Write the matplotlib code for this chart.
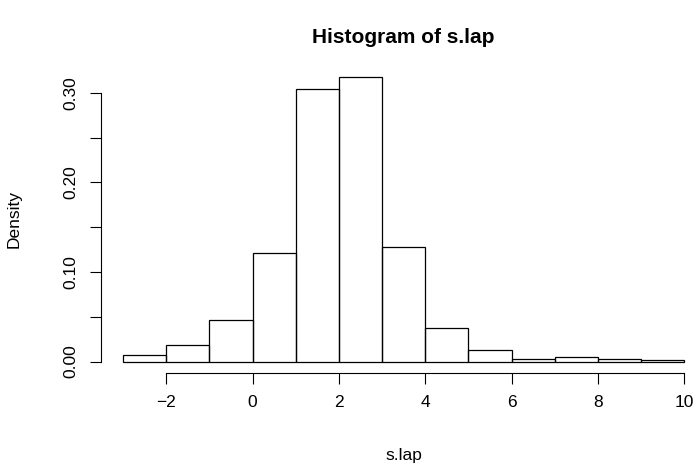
import numpy as np
import matplotlib.pyplot as plt

# histogram of s.lap, bin width 1 from -3 to 10
edges = np.arange(-3, 11, 1)
density = [0.0071, 0.0183, 0.0465, 0.121, 0.304, 0.3175, 0.128,
           0.0376, 0.0126, 0.0033, 0.0056, 0.0026, 0.0015]

xticks = [-2, 0, 2, 4, 6, 8, 10]
xlabels = ["\u22122", "0", "2", "4", "6", "8", "10"]
yticks = [0.0, 0.05, 0.10, 0.15, 0.20, 0.25, 0.30]
ylabels = ["0.00", "", "0.10", "", "0.20", "", "0.30"]

plt.rcParams['font.family'] = ['Liberation Sans', 'DejaVu Sans']

fig = plt.figure(figsize=(6.96, 4.66), dpi=100)
ax = fig.add_axes([0.1445, 0.1996, 0.8555, 0.6592])

ax.bar(edges[:-1], density, width=1, align='edge', fill=False,
       edgecolor='black', linewidth=0.9)

ax.set_xlim(-3.52, 10.27)
ax.set_ylim(-0.0127, 0.330)

for s in ['top', 'right']:
    ax.spines[s].set_visible(False)
ax.spines['left'].set_bounds(0, 0.30)
ax.spines['bottom'].set_bounds(-2, 10)
for s in ['left', 'bottom']:
    ax.spines[s].set_linewidth(0.8)

ax.set_xticks(xticks)
ax.set_xticklabels(xlabels)
ax.set_yticks(yticks)
ax.set_yticklabels(ylabels, rotation=90, va='center')
ax.tick_params(length=8, width=0.8, labelsize=12.5, pad=8)

ax.set_xlabel("s.lap", fontsize=12.5)
ax.xaxis.set_label_coords(0.509, -0.267)
ax.xaxis.label.set_va('center')
ax.set_ylabel("Density", fontsize=12.5)
ax.yaxis.set_label_coords(-0.1455, 0.5)
ax.yaxis.label.set_va('center')

ax.text(0.509, 1.0905, "Histogram of s.lap", transform=ax.transAxes,
        ha='center', va='center', fontsize=15, fontweight='bold')

fig.savefig("out.png", dpi=100)
